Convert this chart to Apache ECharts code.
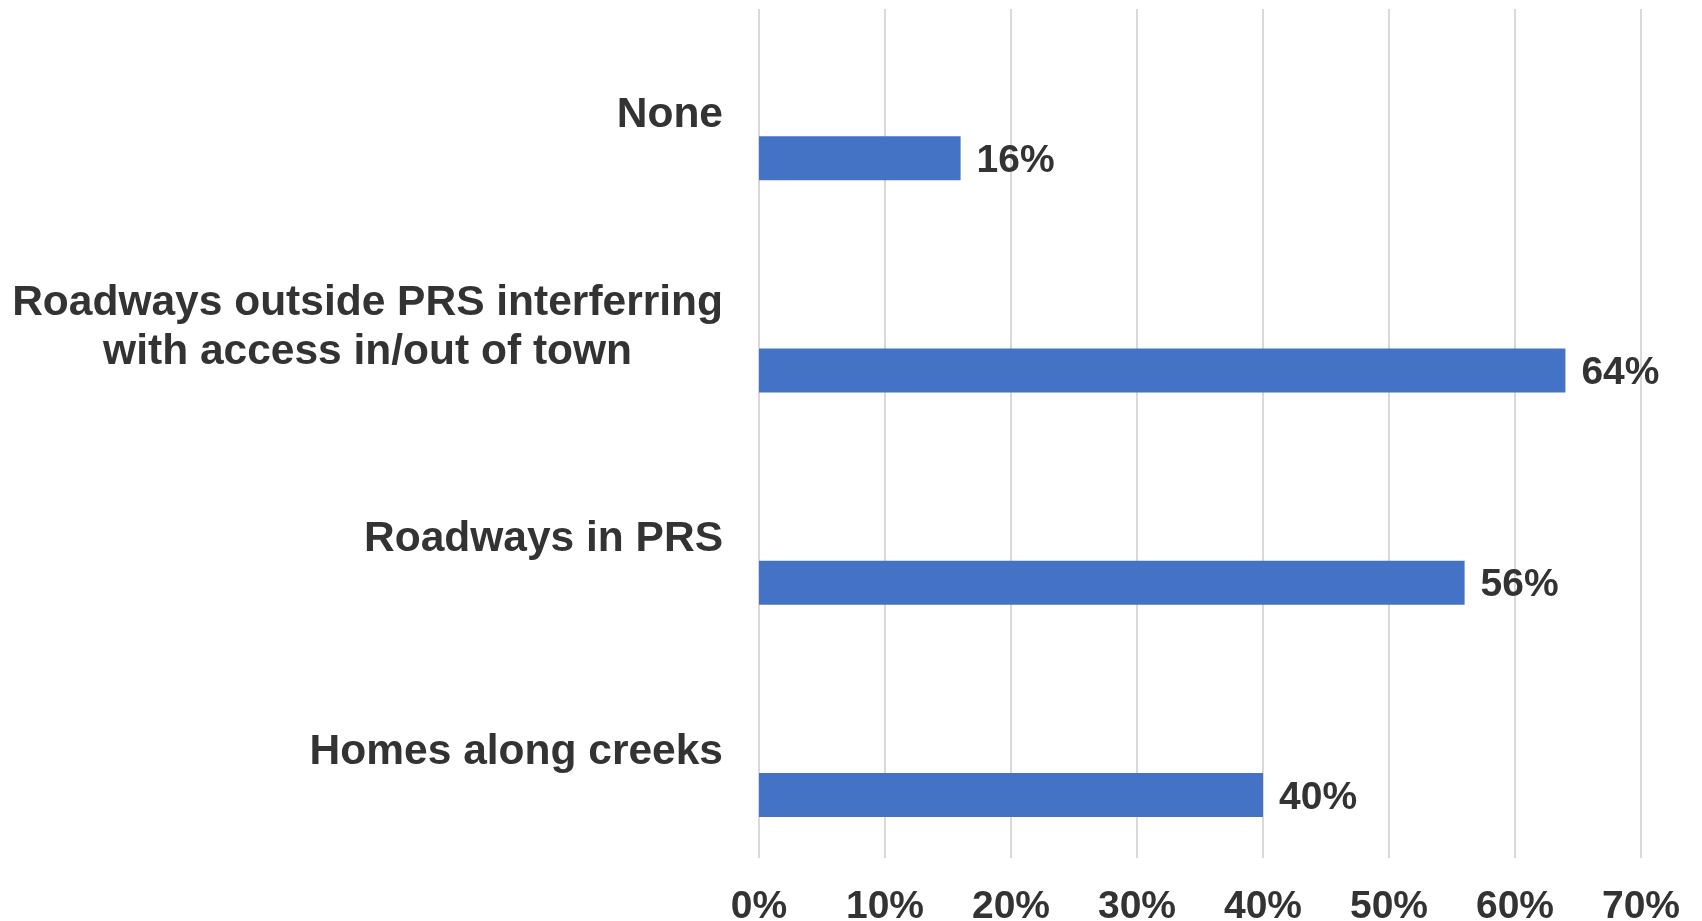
<!DOCTYPE html>
<html><head><meta charset="utf-8">
<script src="https://cdn.jsdelivr.net/npm/echarts@6/dist/echarts.min.js"></script>
<style>html,body{margin:0;padding:0;background:#fff}#c{width:1702px;height:921px}</style>
</head><body><div id="c"></div>
<script>
const categories = ['None', 'Roadways outside PRS interferring\nwith access in/out of town', 'Roadways in PRS', 'Homes along creeks'];
const values = [16, 64, 56, 40];
const tickLabels = ['0%', '10%', '20%', '30%', '40%', '50%', '60%', '70%'];
const emptySlot = [null, null, null, null];

const FONT = '"Liberation Sans", Arial, Helvetica, sans-serif';
const TXT = '#333333';

const chart = echarts.init(document.getElementById('c'), null, {renderer: 'canvas'});
chart.setOption({
  backgroundColor: '#ffffff',
  animation: false,
  grid: {left: 759, right: 61, top: 9, bottom: 63, containLabel: false, outerBoundsMode: 'none'},
  xAxis: {
    type: 'value', min: 0, max: 70, interval: 10,
    axisLine: {show: false}, axisTick: {show: false},
    splitLine: {show: true, lineStyle: {color: '#d9d9d9', width: 2}},
    axisLabel: {
      margin: 30, color: TXT, fontFamily: FONT, fontWeight: 'bold', fontSize: 39,
      formatter: v => tickLabels[Math.round(v / 10)]
    }
  },
  yAxis: {
    type: 'category', inverse: true, data: categories,
    axisLine: {show: false}, axisTick: {show: false},
    axisLabel: {
      margin: 36, color: TXT, fontFamily: FONT, fontWeight: 'bold', fontSize: 42.5, lineHeight: 49,
      formatter: v => {
        const lines = v.split('\n');
        if (lines.length === 1) return '{s|' + v + '}';
        return lines.map(l => '{m|' + l + '}').join('\n');
      },
      rich: {
        s: {color: TXT, fontFamily: FONT, fontWeight: 'bold', fontSize: 42.5, lineHeight: 49},
        m: {color: TXT, fontFamily: FONT, fontWeight: 'bold', fontSize: 42.5, lineHeight: 49, align: 'center'}
      }
    }
  },
  series: [
    {type: 'bar', name: 'blank', data: emptySlot, barWidth: 44, barGap: '95.5%', silent: true},
    {
      type: 'bar', name: 'share', data: values, barWidth: 44, barGap: '95.5%',
      itemStyle: {color: '#4472C4'},
      label: {
        show: true, position: 'right', distance: 16, offset: [0, 3], formatter: '{c}%',
        color: TXT, fontFamily: FONT, fontWeight: 'bold', fontSize: 39
      }
    }
  ]
});
</script>
</body></html>
